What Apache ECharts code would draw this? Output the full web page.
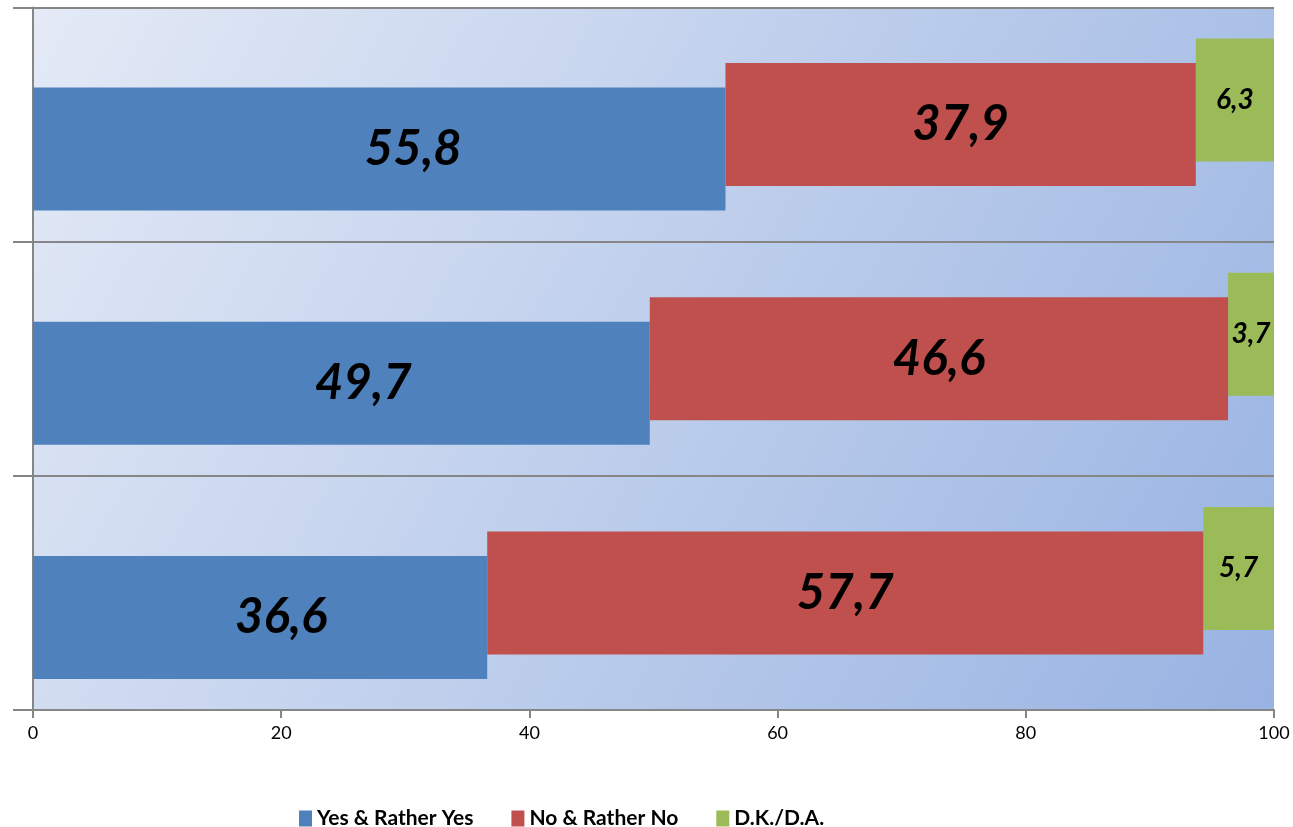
<!DOCTYPE html>
<html><head><meta charset="utf-8">
<script src="https://cdn.jsdelivr.net/npm/echarts@6/dist/echarts.min.js"></script>
<style>html,body{margin:0;padding:0;background:#fff}#c{width:1293px;height:827px}</style>
</head><body><div id="c"></div>
<script>
const categories = ['Row 3', 'Row 2', 'Row 1'];
const yesValues = [36.6, 49.7, 55.8];
const noValues = [57.7, 46.6, 37.9];
const dkValues = [5.7, 3.7, 6.3];
const seriesNames = ['Yes & Rather Yes', 'No & Rather No', 'D.K./D.A.'];
const xTicks = [0, 20, 40, 60, 80, 100];

const FONT = 'Lato, Carlito, Calibri, sans-serif';
const bigLabel = {show: true, position: 'inside', color: '#000', fontFamily: FONT, fontWeight: 'bold', fontStyle: 'italic', fontSize: 49,
  formatter: p => String(p.value).replace('.', ',')};
const smallLabel = Object.assign({}, bigLabel, {fontSize: 28});
const blueOffsets = [[21,0],[22,0],[34,0]];

const chart = echarts.init(document.getElementById('c'), null, {renderer: 'canvas'});
const common = {type: 'bar', barWidth: 123, barGap: '-80.1%', animation: false};
chart.setOption({
  animation: false,
  grid: {left: 33, right: 19, top: 7.5, bottom: 117, show: true, borderWidth: 0,
    backgroundColor: {type: 'linear', x: 0, y: 0, x2: 1, y2: 1,
      colorStops: [{offset: 0, color: '#e4eaf6'}, {offset: 1, color: '#98b3e2'}]}},
  legend: {data: seriesNames, left: 294, top: 803, itemWidth: 13, itemHeight: 16, itemGap: 38, icon: 'rect',
    textStyle: {fontFamily: FONT, fontWeight: 'bold', fontSize: 21, color: '#000'}},
  xAxis: {type: 'value', min: xTicks[0], max: xTicks[xTicks.length-1], interval: 20,
    axisLine: {show: true, lineStyle: {color: '#868686', width: 2}},
    axisTick: {show: true, length: 8, lineStyle: {color: '#868686', width: 2}},
    splitLine: {show: false},
    axisLabel: {fontFamily: FONT, fontSize: 18, color: '#000', margin: 14}},
  yAxis: {type: 'category', data: categories,
    axisLine: {show: true, lineStyle: {color: '#868686', width: 2}},
    axisTick: {show: true, length: 20, lineStyle: {color: '#868686', width: 2}},
    axisLabel: {show: false},
    splitLine: {show: true, lineStyle: {color: '#868686', width: 2}}},
  series: [
    Object.assign({}, common, {name: '_ph3', stack: 's3', data: yesValues.map((v,i)=>+(v+noValues[i]).toFixed(1)), itemStyle: {color: 'transparent'}, silent: true}),
    Object.assign({}, common, {name: seriesNames[2], stack: 's3', data: dkValues, itemStyle: {color: '#9bbb59'}, label: smallLabel}),
    Object.assign({}, common, {name: '_ph2', stack: 's2', data: yesValues, itemStyle: {color: 'transparent'}, silent: true}),
    Object.assign({}, common, {name: seriesNames[1], stack: 's2', data: noValues, itemStyle: {color: '#c0504d'}, label: bigLabel}),
    Object.assign({}, common, {name: seriesNames[0], stack: 's1', itemStyle: {color: '#4f81bd'},
      data: yesValues.map((v,i)=>({value: v, label: {offset: blueOffsets[i]}})), label: bigLabel})
  ]
});
</script></body></html>
